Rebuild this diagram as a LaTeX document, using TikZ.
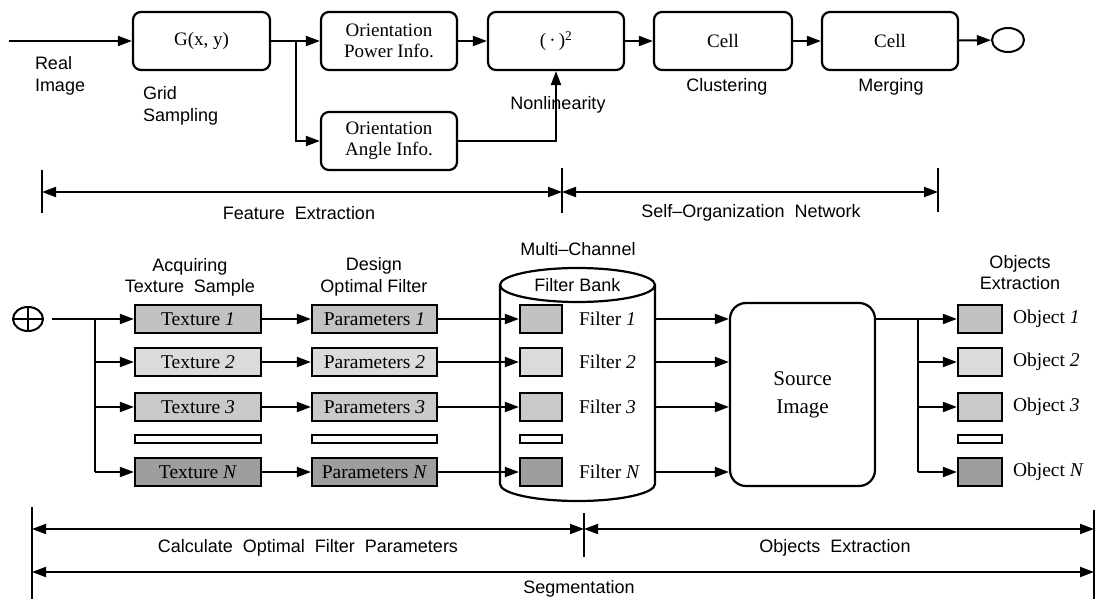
\documentclass[tikz,border=0pt]{standalone}
\usepackage{fontspec}
\setmainfont{Liberation Serif}
\setsansfont{Liberation Sans}
\usetikzlibrary{arrows.meta,shapes.geometric}
\newcommand\bxfont{\fontsize{19}{21}\selectfont}
\newcommand\tfont{\fontsize{19.5}{21}\selectfont}
\newcommand\lfont{\sffamily\fontsize{18}{21.5}\selectfont}
\newcommand\srcfont{\fontsize{21}{28}\selectfont}
\definecolor{shA}{gray}{0.76}
\definecolor{shB}{gray}{0.86}
\definecolor{shC}{gray}{0.79}
\definecolor{shN}{gray}{0.62}
\begin{document}
\begin{tikzpicture}[x=1pt,y=-1pt,line width=2pt,
  arr/.style={-{Triangle[length=14pt,width=10pt]}},
  dimarr/.style={{Triangle[length=14pt,width=10pt]}-{Triangle[length=14pt,width=10pt]}},
  rbox/.style={draw,rounded corners=8pt,line width=2.2pt,minimum height=58pt,inner sep=0pt,align=center,font=\bxfont},
  sbox/.style={draw,line width=2.2pt,minimum height=28pt,inner sep=0pt,font=\tfont},
  bar/.style={draw,line width=2pt,minimum height=8pt,inner sep=0pt},
  lbl/.style={font=\lfont,align=center,inner sep=0pt},
  flbl/.style={font=\tfont,anchor=west,inner sep=0pt},
  ]
\useasboundingbox (0,0) rectangle (1096,599);

% ---------- top row ----------
\coordinate (in) at (9,41);
\node[rbox,minimum width=137pt] (G) at (201.5,41) {G(x,\ y)};
\node[rbox,minimum width=136pt] (P) at (389,41) {Orientation\\Power\ Info.};
\node[rbox,minimum width=136pt] (A) at (389,141) {Orientation\\Angle\ Info.};
\node[rbox,minimum width=136pt] (S) at (556,41) {(\,·\,)\textsuperscript{2}};
\node[rbox,minimum width=138pt] (C1) at (723,41) {Cell};
\node[rbox,minimum width=136pt] (C2) at (890,41) {Cell};
\node[draw,ellipse,minimum width=32pt,minimum height=24pt,inner sep=0pt] (out) at (1008,40) {};
\coordinate (br) at (296,41);
\draw[arr] (in) -- (G.west);
\draw (G.east) -- (br);
\draw[arr] (br) -- (P.west);
\draw[arr] (br) |- (A.west);
\draw[arr] (P) -- (S);
\draw[arr] (A.east) -| (S.south);
\draw[arr] (S) -- (C1);
\draw[arr] (C1) -- (C2);
\draw[arr] (C2) -- (out);

\node[lbl,align=left,anchor=west] (ri) at (34,76) {Real\\Image};
\node[lbl,align=left,anchor=west] (gs) at (142,106) {Grid\\Sampling};
\node[lbl] (nl) at (558,105) {Nonlinearity};
\node[lbl] (cl) at (727,87) {Clustering};
\node[lbl] (mg) at (891,87) {Merging};

% ---------- top dimension ----------
\coordinate (da) at (42,192);
\coordinate (db) at (562,192);
\coordinate (dc) at (938,192);
\draw (42,170) -- (42,213);
\draw (562,168) -- (562,213);
\draw (938,168) -- (938,212);
\draw[dimarr] (da) -- (db);
\draw[dimarr] (db) -- (dc);
\node[lbl] (fe) at (299,213) {Feature\ \ Extraction};
\node[lbl] (so) at (751,213) {Self--Organization\ \ Network};

% ---------- bottom headings ----------
\node[lbl] (hacq) at (190,277.5) {Acquiring\\Texture\hspace{10pt}Sample};
\node[lbl] (hdes) at (374,277) {Design\\Optimal Filter};
\node[lbl] (hmc) at (578,249) {Multi--Channel};
\node[lbl] (hobj) at (1020,272.5) {Objects\\Extraction};

% ---------- cylinder ----------
\draw[line width=2.2pt] (500,285) -- (500,484) arc[start angle=180,end angle=0,x radius=77.5,y radius=17] -- (655,285);
\node[draw,ellipse,line width=2.2pt,minimum width=155pt,minimum height=34pt,inner sep=0pt,font=\lfont] (bank) at (577.5,285) {Filter Bank};

% ---------- source image ----------
\node[draw,rounded corners=16pt,line width=2.2pt,minimum width=145pt,minimum height=183pt,align=center,font=\srcfont] (src) at (802.5,394.5) {Source\\Image};

% ---------- input ----------
\node[draw,ellipse,minimum width=30pt,minimum height=24pt,inner sep=0pt] (sum) at (28,319) {};
\draw (sum.north) -- (sum.south);
\draw (sum.west) -- (sum.east);
\coordinate (s0) at (52,319);
\coordinate (sb) at (95,319);

% ---------- rows ----------
\node[sbox,fill=shA,minimum width=126pt] (t1) at (198,319) {Texture \textit{1}};
\node[sbox,fill=shB,minimum width=126pt] (t2) at (198,362) {Texture \textit{2}};
\node[sbox,fill=shC,minimum width=126pt] (t3) at (198,407) {Texture \textit{3}};
\node[bar,minimum width=126pt] (tb) at (198,439) {};
\node[sbox,fill=shN,minimum width=126pt] (tN) at (198,472) {Texture \textit{N}};

\node[sbox,fill=shA,minimum width=125pt] (p1) at (374.5,319) {Parameters \textit{1}};
\node[sbox,fill=shB,minimum width=125pt] (p2) at (374.5,362) {Parameters \textit{2}};
\node[sbox,fill=shC,minimum width=125pt] (p3) at (374.5,407) {Parameters \textit{3}};
\node[bar,minimum width=125pt] (pb) at (374.5,439) {};
\node[sbox,fill=shN,minimum width=125pt] (pN) at (374.5,472) {Parameters \textit{N}};

\node[sbox,fill=shA,minimum width=42pt] (f1) at (541,319) {};
\node[sbox,fill=shB,minimum width=42pt] (f2) at (541,362) {};
\node[sbox,fill=shC,minimum width=42pt] (f3) at (541,407) {};
\node[bar,minimum width=42pt] (fb) at (541,439) {};
\node[sbox,fill=shN,minimum width=42pt] (fN) at (541,472) {};
\node[flbl] (fl1) at (578,319) {Filter \textit{1}};
\node[flbl] (fl2) at (578,362) {Filter \textit{2}};
\node[flbl] (fl3) at (578,407) {Filter \textit{3}};
\node[flbl] (flN) at (578,472) {Filter \textit{N}};

\node[sbox,fill=shA,minimum width=44pt] (o1) at (980,319) {};
\node[sbox,fill=shB,minimum width=44pt] (o2) at (980,362) {};
\node[sbox,fill=shC,minimum width=44pt] (o3) at (980,407) {};
\node[bar,minimum width=44pt] (obar) at (980,439) {};
\node[sbox,fill=shN,minimum width=44pt] (oN) at (980,472) {};
\node[flbl] (ol1) at (1012,319) {Object \textit{1}};
\node[flbl] (ol2) at (1012,362) {Object \textit{2}};
\node[flbl] (ol3) at (1012,407) {Object \textit{3}};
\node[flbl] (olN) at (1012,472) {Object \textit{N}};

% ---------- connectors ----------
\draw (s0) -- (sb) -- (sb |- tN);
\draw[arr] (sb) -- (t1);
\draw[arr] (sb |- t2) -- (t2);
\draw[arr] (sb |- t3) -- (t3);
\draw[arr] (sb |- tN) -- (tN);
\draw[arr] (t1) -- (p1);
\draw[arr] (t2) -- (p2);
\draw[arr] (t3) -- (p3);
\draw[arr] (tN) -- (pN);
\draw[arr] (p1) -- (f1);
\draw[arr] (p2) -- (f2);
\draw[arr] (p3) -- (f3);
\draw[arr] (pN) -- (fN);
\draw[arr] (f1 -| bank.east) -- (f1 -| src.west);
\draw[arr] (f2 -| bank.east) -- (f2 -| src.west);
\draw[arr] (f3 -| bank.east) -- (f3 -| src.west);
\draw[arr] (fN -| bank.east) -- (fN -| src.west);
\coordinate (ob) at (918,319);
\draw (o1 -| src.east) -- (ob) -- (ob |- oN);
\draw[arr] (ob) -- (o1);
\draw[arr] (ob |- o2) -- (o2);
\draw[arr] (ob |- o3) -- (o3);
\draw[arr] (ob |- oN) -- (oN);

% ---------- bottom dimensions ----------
\coordinate (ea) at (32,529);
\coordinate (eb) at (584,529);
\coordinate (ec) at (1094,529);
\coordinate (ga) at (32,572);
\coordinate (gb) at (1094,572);
\draw (32,507) -- (32,599);
\draw (584,513) -- (584,557);
\draw (1094,510) -- (1094,599);
\draw[dimarr] (ea) -- (eb);
\draw[dimarr] (eb) -- (ec);
\draw[dimarr] (ga) -- (gb);
\node[lbl] (cofp) at (308,548) {Calculate\ \ Optimal\ \ Filter\ \ Parameters};
\node[lbl] (oe) at (835,548) {Objects\ \ Extraction};
\node[lbl] (seg) at (579,589) {Segmentation};
\end{tikzpicture}
\end{document}
